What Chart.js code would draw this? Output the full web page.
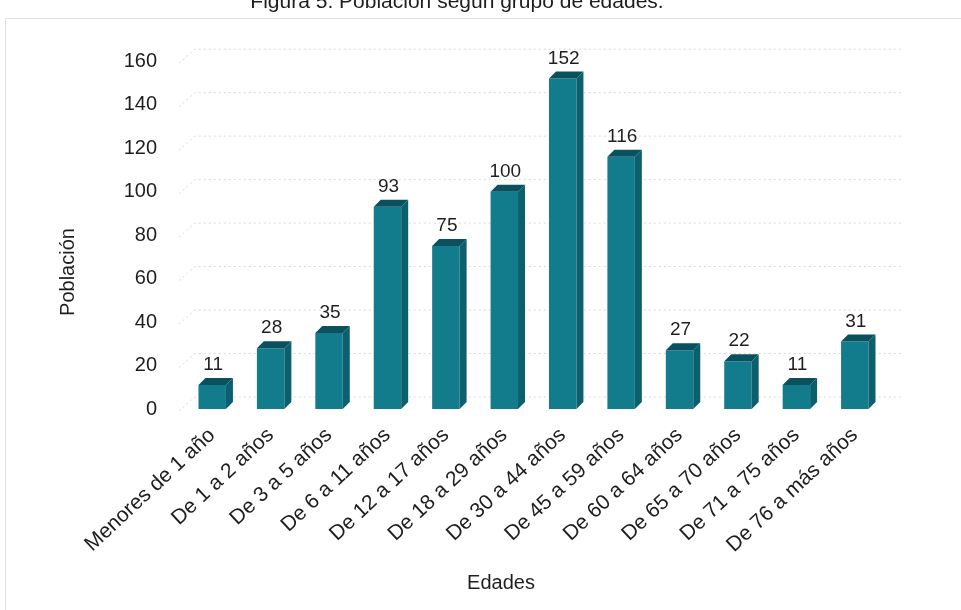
<!DOCTYPE html>
<html>
<head>
<meta charset="utf-8">
<script src="https://cdn.jsdelivr.net/npm/chart.js@4.4.0/dist/chart.umd.min.js"></script>
<style>
  html, body { margin: 0; padding: 0; background: #fff; overflow: hidden; }
  #frame { position: absolute; left: 5px; top: 18px; width: 960px; height: 600px;
           border-top: 1px solid #e2e2e2; border-left: 1px solid #e2e2e2; }
  #wrap { position: absolute; left: 0; top: -12px; width: 961px; height: 622px; }
</style>
</head>
<body>
<div id="frame"></div>
<div id="wrap"><canvas id="myChart"></canvas></div>
<script>
// datos
const edades = ['Menores de 1 año', 'De 1 a 2 años', 'De 3 a 5 años', 'De 6 a 11 años',
    'De 12 a 17 años', 'De 18 a 29 años', 'De 30 a 44 años', 'De 45 a 59 años',
    'De 60 a 64 años', 'De 65 a 70 años', 'De 71 a 75 años', 'De 76 a más años'];
const poblacion = [11, 28, 35, 93, 75, 100, 152, 116, 27, 22, 11, 31];
const yTicks = [0, 20, 40, 60, 80, 100, 120, 140, 160];

const FONT = "'Liberation Sans', Arial, sans-serif";
const frente = '#137c8c';
const lado = '#0c606d';
const techo = '#0a515d';
const prof = 7;

// rejilla con algo de perspectiva, como el original
const rejilla3d = {
    id: 'rejilla3d',
    beforeDatasetsDraw(chart) {
        const y = chart.scales.y;
        const a = chart.chartArea;
        const c = chart.ctx;
        c.save();
        c.strokeStyle = '#d8d8d8';
        c.lineWidth = 1;
        c.setLineDash([2, 3]);
        yTicks.forEach(v => {
            const py = y.getPixelForValue(v);
            c.beginPath();
            c.moveTo(a.left - 4, py + 2);
            c.lineTo(a.left + 12, py - 12);
            c.lineTo(a.right + 18, py - 12);
            c.stroke();
        });
        c.restore();
    }
};

// caras laterales y superiores de las barras + etiquetas
const barras3d = {
    id: 'barras3d',
    afterDatasetsDraw(chart) {
        const c = chart.ctx;
        const meta = chart.getDatasetMeta(0);
        c.save();
        meta.data.forEach((bar, i) => {
            const p = bar.getProps(['x', 'y', 'base', 'width'], true);
            const l = p.x - p.width / 2, r = p.x + p.width / 2;
            c.fillStyle = lado;
            c.beginPath();
            c.moveTo(r, p.y);
            c.lineTo(r + prof, p.y - prof);
            c.lineTo(r + prof, p.base - prof);
            c.lineTo(r, p.base);
            c.closePath();
            c.fill();
            c.fillStyle = techo;
            c.beginPath();
            c.moveTo(l, p.y);
            c.lineTo(l + prof, p.y - prof);
            c.lineTo(r + prof, p.y - prof);
            c.lineTo(r, p.y);
            c.closePath();
            c.fill();
            c.fillStyle = '#1e1e1e';
            c.font = '19px ' + FONT;
            c.textAlign = 'center';
            c.textBaseline = 'alphabetic';
            c.fillText(poblacion[i], p.x + 1, p.y - 15);
        });
        c.restore();
    }
};

// titulos de los ejes en la misma posicion que la figura
const titulosEjes = {
    id: 'titulosEjes',
    afterDraw(chart) {
        const c = chart.ctx;
        c.save();
        c.fillStyle = '#1e1e1e';
        c.font = '20px ' + FONT;
        c.textAlign = 'center';
        c.textBaseline = 'middle';
        c.fillText('Edades', 501, 595);
        c.translate(68, 284);
        c.rotate(-Math.PI / 2);
        c.fillText('Población', 0, 0);
        c.restore();
    }
};

const canvas = document.getElementById('myChart');
const ctx = canvas.getContext('2d');

const chart = new Chart(ctx, {
    type: 'bar',
    data: {
        labels: edades,
        datasets: [{
            label: 'Población',
            data: poblacion,
            backgroundColor: frente,
            borderWidth: 0,
            barPercentage: 0.47,
            categoryPercentage: 1.0
        }]
    },
    options: {
        responsive: true,
        maintainAspectRatio: false,
        animation: false,
        layout: { padding: { left: 30, right: 77, top: 0, bottom: 0 } },
        plugins: {
            legend: { display: false },
            tooltip: { enabled: false },
            title: {
                display: true,
                text: 'Figura 5. Población según grupo de edades.',
                color: '#1e1e1e',
                font: { family: FONT, size: 21, weight: 'normal' },
                padding: { top: 2, bottom: 46 }
            }
        },
        scales: {
            x: {
                grid: { display: false, drawTicks: false },
                border: { display: false },
                afterFit: s => { s.height = 201; },
                ticks: {
                    color: '#1e1e1e',
                    font: { family: FONT, size: 21 },
                    minRotation: 43,
                    maxRotation: 43,
                    autoSkip: false,
                    padding: 14
                }
            },
            y: {
                min: 0,
                max: 160,
                afterFit: s => { s.width = 153; },
                afterBuildTicks: s => { s.ticks = yTicks.map(v => ({ value: v })); },
                grid: { display: false, drawTicks: false },
                border: { display: false },
                ticks: {
                    color: '#1e1e1e',
                    font: { family: FONT, size: 20 },
                    padding: 26
                }
            }
        }
    },
    plugins: [rejilla3d, barras3d, titulosEjes]
});
</script>
</body>
</html>
